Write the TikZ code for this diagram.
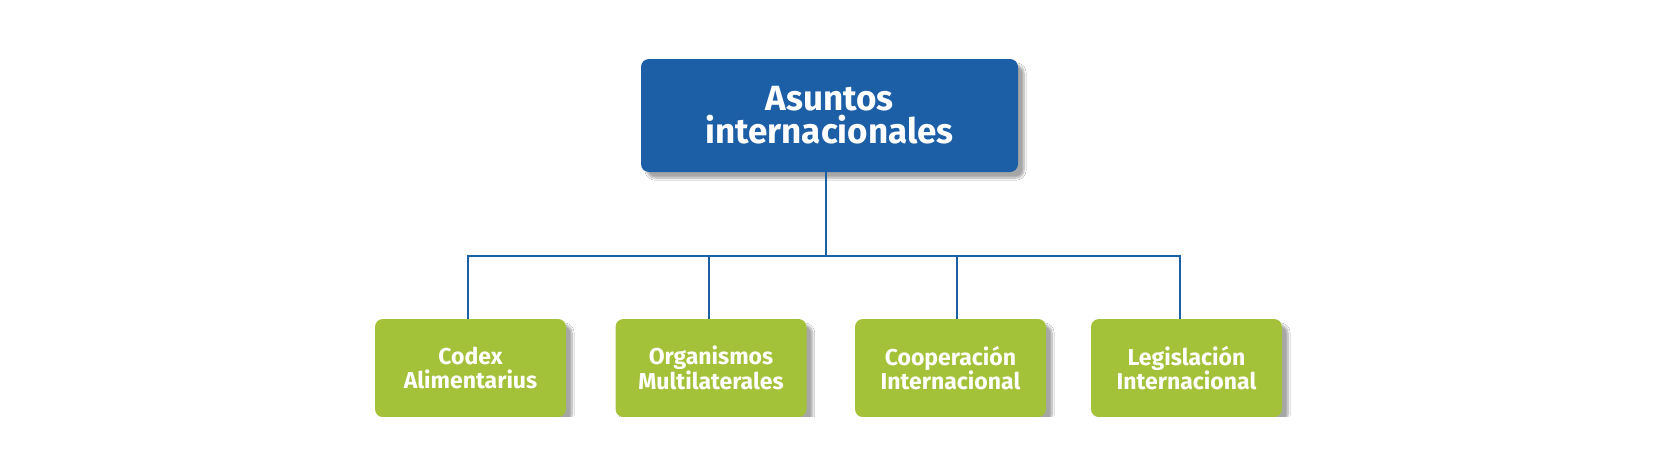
\documentclass[tikz,border=0pt]{standalone}
\usepackage{fontspec}
\setmainfont{Fira Sans}
\usetikzlibrary{shadows.blur}
\definecolor{boxblue}{HTML}{1D5FA6}
\definecolor{lineblue}{HTML}{1B5FA5}
\definecolor{boxgreen}{HTML}{A4C13A}
\tikzset{
  topbox/.style={fill=boxblue, rounded corners=8pt, minimum width=377pt, minimum height=113pt,
    text=white, align=center, font=\fontsize{35}{33}\selectfont\bfseries,
    blur shadow={shadow xshift=6pt, shadow yshift=-6pt, shadow blur steps=8, shadow opacity=35}},
  subbox/.style={fill=boxgreen, rounded corners=8pt, minimum width=191pt, minimum height=98pt,
    text=white, align=center, font=\fontsize{23}{23.5}\selectfont\bfseries,
    blur shadow={shadow xshift=6pt, shadow yshift=-6pt, shadow blur steps=8, shadow opacity=35}},
  conn/.style={draw=lineblue, line width=2.2pt}
}
\begin{document}
\begin{tikzpicture}[x=1pt,y=-1pt]
\fill[white] (0,0) rectangle (1657,474);
\useasboundingbox (0,0) rectangle (1657,474);
\node[topbox] (top) at (829.5,115.5) {Asuntos\\internacionales};
\node[subbox] (b1) at (470.5,368) {Codex\\Alimentarius};
\node[subbox] (b2) at (711,368) {Organismos\\Multilaterales};
\node[subbox] (b3) at (950.5,368) {Cooperación\\Internacional};
\node[subbox] (b4) at (1186.5,368) {Legislación\\Internacional};
\fill[white] (0,417) rectangle (1657,474);
\coordinate (hub) at (826,256);
\draw[conn] ([xshift=-3.5pt]top.south) -- (hub);
\draw[conn] ([xshift=-2.5pt]b1.north) |- ([xshift=-6.5pt]b4.north |- hub) -- ([xshift=-6.5pt]b4.north);
\draw[conn] ([xshift=-2pt]b2.north) -- ([xshift=-2pt]b2.north |- hub);
\draw[conn] ([xshift=6.5pt]b3.north) -- ([xshift=6.5pt]b3.north |- hub);
\end{tikzpicture}
\end{document}
